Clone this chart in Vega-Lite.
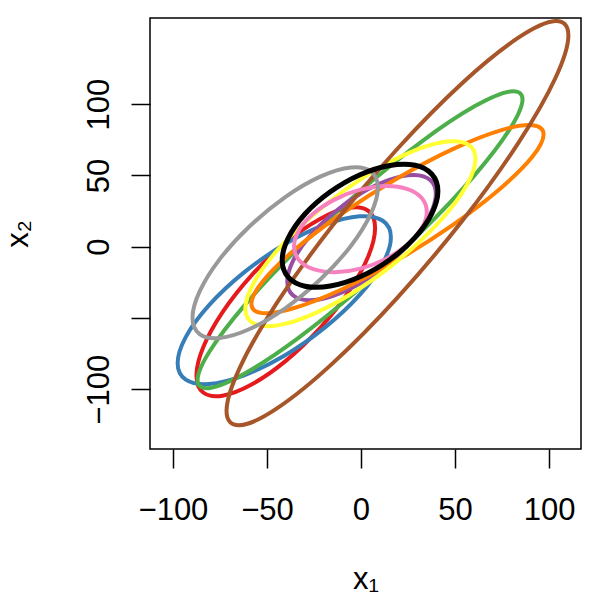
{
  "$schema": "https://vega.github.io/schema/vega-lite/v6.json",
  "width": 431,
  "height": 431,
  "autosize": {"type": "none"},
  "padding": {"left": 150, "top": 18, "right": 19, "bottom": 151},
  "background": "white",
  "config": {"view": {"stroke": "black", "strokeWidth": 1.5}, "font": "Liberation Sans"},
  "data": {"values": [
    {"g":"red","k":0,"x":7.5,"y":13.1},{"g":"red","k":1,"x":3.9,"y":-6.7},{"g":"red","k":2,"x":-6.4,"y":-31.3},{"g":"red","k":3,"x":-21.8,"y":-57.1},{"g":"red","k":4,"x":-40,"y":-80.1},{"g":"red","k":5,"x":-58.2,"y":-96.7},{"g":"red","k":6,"x":-73.6,"y":-104.5},{"g":"red","k":7,"x":-83.9,"y":-102.3},{"g":"red","k":8,"x":-87.5,"y":-90.3},{"g":"red","k":9,"x":-83.9,"y":-70.5},{"g":"red","k":10,"x":-73.6,"y":-45.9},{"g":"red","k":11,"x":-58.2,"y":-20.1},{"g":"red","k":12,"x":-40,"y":2.9},{"g":"red","k":13,"x":-21.8,"y":19.5},{"g":"red","k":14,"x":-6.4,"y":27.3},{"g":"red","k":15,"x":3.9,"y":25.1},
    {"g":"blue","k":0,"x":15.9,"y":6.7},{"g":"blue","k":1,"x":11.6,"y":-11.6},{"g":"blue","k":2,"x":-0.7,"y":-33.8},{"g":"blue","k":3,"x":-19.1,"y":-56.6},{"g":"blue","k":4,"x":-40.8,"y":-76.5},{"g":"blue","k":5,"x":-62.5,"y":-90.4},{"g":"blue","k":6,"x":-80.9,"y":-96.3},{"g":"blue","k":7,"x":-93.2,"y":-93.2},{"g":"blue","k":8,"x":-97.5,"y":-81.7},{"g":"blue","k":9,"x":-93.2,"y":-63.4},{"g":"blue","k":10,"x":-80.9,"y":-41.2},{"g":"blue","k":11,"x":-62.5,"y":-18.4},{"g":"blue","k":12,"x":-40.8,"y":1.5},{"g":"blue","k":13,"x":-19.1,"y":15.4},{"g":"blue","k":14,"x":-0.7,"y":21.3},{"g":"blue","k":15,"x":11.6,"y":18.2},
    {"g":"green","k":0,"x":85.9,"y":103.4},{"g":"green","k":1,"x":79.3,"y":82.8},{"g":"green","k":2,"x":60.6,"y":50.4},{"g":"green","k":3,"x":32.6,"y":11.1},{"g":"green","k":4,"x":-0.5,"y":-29.2},{"g":"green","k":5,"x":-33.6,"y":-64.3},{"g":"green","k":6,"x":-61.6,"y":-88.8},{"g":"green","k":7,"x":-80.3,"y":-99.1},{"g":"green","k":8,"x":-86.9,"y":-93.6},{"g":"green","k":9,"x":-80.3,"y":-73.0},{"g":"green","k":10,"x":-61.6,"y":-40.6},{"g":"green","k":11,"x":-33.6,"y":-1.3},{"g":"green","k":12,"x":-0.5,"y":39.0},{"g":"green","k":13,"x":32.6,"y":74.1},{"g":"green","k":14,"x":60.6,"y":98.6},{"g":"green","k":15,"x":79.3,"y":108.9},
    {"g":"purple","k":0,"x":39.8,"y":37.0},{"g":"purple","k":1,"x":36.8,"y":22.7},{"g":"purple","k":2,"x":28.2,"y":5.8},{"g":"purple","k":3,"x":15.4,"y":-10.9},{"g":"purple","k":4,"x":0.3,"y":-25.1},{"g":"purple","k":5,"x":-14.8,"y":-34.4},{"g":"purple","k":6,"x":-27.6,"y":-37.6},{"g":"purple","k":7,"x":-36.2,"y":-34.1},{"g":"purple","k":8,"x":-39.2,"y":-24.4},{"g":"purple","k":9,"x":-36.2,"y":-10.1},{"g":"purple","k":10,"x":-27.6,"y":6.8},{"g":"purple","k":11,"x":-14.8,"y":23.5},{"g":"purple","k":12,"x":0.3,"y":37.7},{"g":"purple","k":13,"x":15.4,"y":47.0},{"g":"purple","k":14,"x":28.2,"y":50.2},{"g":"purple","k":15,"x":36.8,"y":46.7},
    {"g":"orange","k":0,"x":97.1,"y":78.7},{"g":"orange","k":1,"x":91.2,"y":63.2},{"g":"orange","k":2,"x":74.3,"y":41.0},{"g":"orange","k":3,"x":49.1,"y":15.5},{"g":"orange","k":4,"x":19.4,"y":-9.4},{"g":"orange","k":5,"x":-10.3,"y":-30.0},{"g":"orange","k":6,"x":-35.5,"y":-43.0},{"g":"orange","k":7,"x":-52.4,"y":-46.6},{"g":"orange","k":8,"x":-58.3,"y":-40.1},{"g":"orange","k":9,"x":-52.4,"y":-24.6},{"g":"orange","k":10,"x":-35.5,"y":-2.4},{"g":"orange","k":11,"x":-10.3,"y":23.1},{"g":"orange","k":12,"x":19.4,"y":48.0},{"g":"orange","k":13,"x":49.1,"y":68.6},{"g":"orange","k":14,"x":74.3,"y":81.6},{"g":"orange","k":15,"x":91.2,"y":85.2},
    {"g":"yellow","k":0,"x":60.9,"y":61.7},{"g":"yellow","k":1,"x":56.2,"y":43.1},{"g":"yellow","k":2,"x":43.0,"y":19.4},{"g":"yellow","k":3,"x":23.1,"y":-5.9},{"g":"yellow","k":4,"x":-0.3,"y":-29.0},{"g":"yellow","k":5,"x":-23.7,"y":-46.2},{"g":"yellow","k":6,"x":-43.6,"y":-55.0},{"g":"yellow","k":7,"x":-56.8,"y":-54.0},{"g":"yellow","k":8,"x":-61.5,"y":-43.5},{"g":"yellow","k":9,"x":-56.8,"y":-24.9},{"g":"yellow","k":10,"x":-43.6,"y":-1.2},{"g":"yellow","k":11,"x":-23.7,"y":24.1},{"g":"yellow","k":12,"x":-0.3,"y":47.2},{"g":"yellow","k":13,"x":23.1,"y":64.4},{"g":"yellow","k":14,"x":43.0,"y":73.2},{"g":"yellow","k":15,"x":56.2,"y":72.2},
    {"g":"brown","k":0,"x":110.3,"y":148.3},{"g":"brown","k":1,"x":103.4,"y":118.3},{"g":"brown","k":2,"x":83.7,"y":72.8},{"g":"brown","k":3,"x":54.2,"y":18.7},{"g":"brown","k":4,"x":19.4,"y":-35.7},{"g":"brown","k":5,"x":-15.4,"y":-82.2},{"g":"brown","k":6,"x":-44.9,"y":-113.6},{"g":"brown","k":7,"x":-64.6,"y":-125.3},{"g":"brown","k":8,"x":-71.5,"y":-115.3},{"g":"brown","k":9,"x":-64.6,"y":-85.3},{"g":"brown","k":10,"x":-44.9,"y":-39.8},{"g":"brown","k":11,"x":-15.4,"y":14.3},{"g":"brown","k":12,"x":19.4,"y":68.7},{"g":"brown","k":13,"x":54.2,"y":115.2},{"g":"brown","k":14,"x":83.7,"y":146.6},{"g":"brown","k":15,"x":103.4,"y":158.3},
    {"g":"pink","k":0,"x":35.0,"y":24.4},{"g":"pink","k":1,"x":32.3,"y":12.9},{"g":"pink","k":2,"x":24.7,"y":1.3},{"g":"pink","k":3,"x":13.2,"y":-8.6},{"g":"pink","k":4,"x":-0.3,"y":-15.4},{"g":"pink","k":5,"x":-13.8,"y":-17.9},{"g":"pink","k":6,"x":-25.3,"y":-15.8},{"g":"pink","k":7,"x":-32.9,"y":-9.5},{"g":"pink","k":8,"x":-35.6,"y":0.2},{"g":"pink","k":9,"x":-32.9,"y":11.7},{"g":"pink","k":10,"x":-25.3,"y":23.3},{"g":"pink","k":11,"x":-13.8,"y":33.2},{"g":"pink","k":12,"x":-0.3,"y":40.0},{"g":"pink","k":13,"x":13.2,"y":42.5},{"g":"pink","k":14,"x":24.7,"y":40.4},{"g":"pink","k":15,"x":32.3,"y":34.1},
    {"g":"grey","k":0,"x":9.0,"y":41.4},{"g":"grey","k":1,"x":5.2,"y":23.0},{"g":"grey","k":2,"x":-5.4,"y":0.5},{"g":"grey","k":3,"x":-21.4,"y":-22.7},{"g":"grey","k":4,"x":-40.3,"y":-43.2},{"g":"grey","k":5,"x":-59.2,"y":-57.7},{"g":"grey","k":6,"x":-75.2,"y":-64.0},{"g":"grey","k":7,"x":-85.8,"y":-61.3},{"g":"grey","k":8,"x":-89.6,"y":-49.8},{"g":"grey","k":9,"x":-85.8,"y":-31.4},{"g":"grey","k":10,"x":-75.2,"y":-8.9},{"g":"grey","k":11,"x":-59.2,"y":14.3},{"g":"grey","k":12,"x":-40.3,"y":34.8},{"g":"grey","k":13,"x":-21.4,"y":49.3},{"g":"grey","k":14,"x":-5.4,"y":55.6},{"g":"grey","k":15,"x":5.2,"y":52.9},
    {"g":"black","k":0,"x":40.9,"y":38.9},{"g":"black","k":1,"x":37.7,"y":23.4},{"g":"black","k":2,"x":28.8,"y":6.5},{"g":"black","k":3,"x":15.3,"y":-9.1},{"g":"black","k":4,"x":-0.5,"y":-21.1},{"g":"black","k":5,"x":-16.3,"y":-27.6},{"g":"black","k":6,"x":-29.8,"y":-27.7},{"g":"black","k":7,"x":-38.7,"y":-21.4},{"g":"black","k":8,"x":-41.9,"y":-9.5},{"g":"black","k":9,"x":-38.7,"y":6.0},{"g":"black","k":10,"x":-29.8,"y":22.9},{"g":"black","k":11,"x":-16.3,"y":38.5},{"g":"black","k":12,"x":-0.5,"y":50.5},{"g":"black","k":13,"x":15.3,"y":57.0},{"g":"black","k":14,"x":28.8,"y":57.1},{"g":"black","k":15,"x":37.7,"y":50.8}
  ]},
  "encoding": {
    "x": {"field": "x", "type": "quantitative",
      "scale": {"domain": [-112.2, 117], "nice": false, "zero": false},
      "axis": {"values": [-100, -50, 0, 50, 100], "title": "x₁", "grid": false, "domain": false,
        "tickSize": 19, "tickColor": "black", "tickWidth": 1.5,
        "labelFontSize": 31, "labelColor": "black", "labelPadding": 51, "labelBaseline": "alphabetic",
        "labelFlush": false, "labelOverlap": false, "labelFont": "Liberation Sans",
        "titleFontSize": 31, "titleFontWeight": "normal", "titleColor": "black", "titleFont": "Liberation Sans",
        "titleBaseline": "alphabetic", "titleY": 139}},
    "y": {"field": "y", "type": "quantitative",
      "scale": {"domain": [-141.9, 160.4], "nice": false, "zero": false},
      "axis": {"values": [-100, -50, 0, 50, 100], "title": "x₂", "grid": false, "domain": false,
        "labelExpr": "datum.value === -50 ? '' : datum.label",
        "tickSize": 19, "tickColor": "black", "tickWidth": 1.5,
        "labelFontSize": 31, "labelColor": "black", "labelPadding": 23, "labelAngle": 270,
        "labelAlign": "center", "labelBaseline": "alphabetic",
        "labelFlush": false, "labelOverlap": false, "labelFont": "Liberation Sans",
        "titleFontSize": 31, "titleFontWeight": "normal", "titleColor": "black", "titleFont": "Liberation Sans",
        "titleAngle": 270, "titleBaseline": "alphabetic", "titleX": -123, "titleY": 215.5}},
    "order": {"field": "k", "type": "quantitative"},
    "color": {"field": "g", "type": "nominal", "legend": null,
      "scale": {"domain": ["red","blue","green","purple","orange","yellow","brown","pink","grey","black"],
        "range": ["#E41A1C","#377EB8","#4DAF4A","#984EA3","#FF7F00","#FFFF33","#A65628","#F781BF","#999999","#000000"]}}
  },
  "layer": [
    {"transform": [{"filter": "datum.g !== 'black'"}],
     "mark": {"type": "line", "interpolate": "cardinal-closed", "strokeWidth": 4}},
    {"transform": [{"filter": "datum.g === 'black'"}],
     "mark": {"type": "line", "interpolate": "cardinal-closed", "strokeWidth": 5}}
  ]
}
